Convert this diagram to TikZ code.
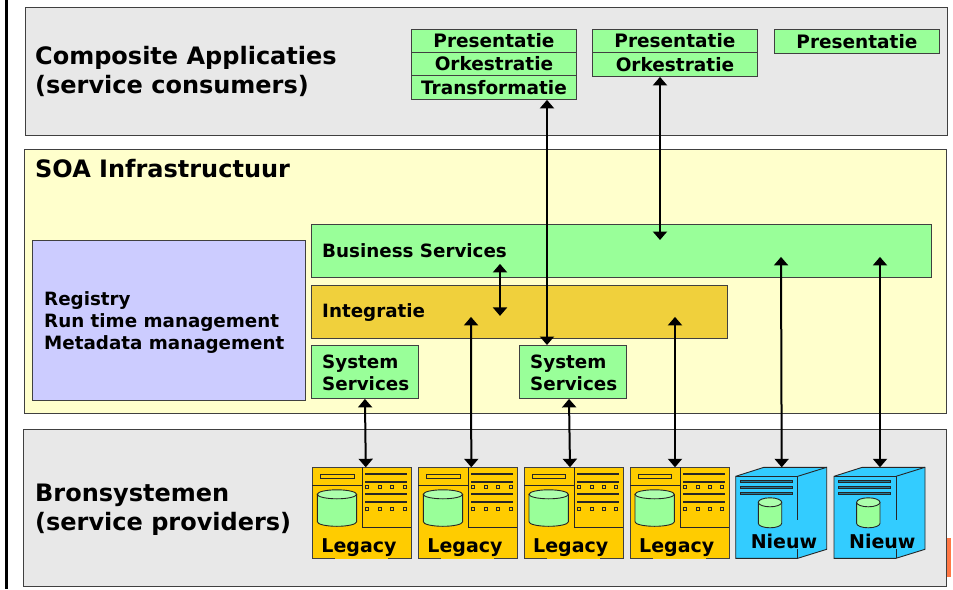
\documentclass[tikz,border=0pt]{standalone}
\usepackage{fontspec}
\setmainfont{DejaVu Sans}
\usetikzlibrary{arrows.meta}
\definecolor{panelgrey}{HTML}{E8E8E8}
\definecolor{soayellow}{HTML}{FFFFCC}
\definecolor{lilac}{HTML}{CCCCFF}
\definecolor{sgreen}{HTML}{99FF99}
\definecolor{integ}{HTML}{F0D03C}
\definecolor{legacyy}{HTML}{FFCC00}
\definecolor{nieuwb}{HTML}{33CCFF}
\definecolor{orangeb}{HTML}{FF7744}
\tikzset{
  panel/.style={draw=black!75,line width=0.9pt,anchor=north west,inner sep=0pt},
  box/.style={panel,fill=sgreen,font=\bfseries\fontsize{18.5}{20}\selectfont},
  title/.style={anchor=west,align=left,inner sep=0pt,font=\bfseries\fontsize{24}{29}\selectfont},
  label/.style={anchor=west,align=left,inner sep=0pt,font=\bfseries\fontsize{18.3}{22}\selectfont},
  arr/.style={{Triangle[length=8.5pt,width=14pt]}-{Triangle[length=8.5pt,width=14pt]},line width=2pt,black},
  ico/.style={draw=black!85,line width=0.9pt},
  bar/.style={draw=black!85,line width=2pt},
  icotext/.style={inner sep=0pt,anchor=base,font=\bfseries\fontsize{19}{22}\selectfont}
}
\newcommand{\mylow}[2]{\raisebox{-#1pt}{#2}}
\newcommand{\mycyl}[4]{% x1,x2,ytop,ybot
  \filldraw[ico,fill=sgreen] (#1,#3) -- (#1,#4) arc[start angle=180,end angle=0,x radius={(#2-#1)/2},y radius=4.5] -- (#2,#3) -- cycle;
  \filldraw[ico,fill=sgreen!80!white] ({(#1+#2)/2},#3) ellipse[x radius={(#2-#1)/2},y radius=4.5];
}
\newcommand{\mylegacy}[3]{% name, x, y
  \node[panel,fill=legacyy,minimum width=98.5pt,minimum height=91pt] (#1) at (#2,#3) {};
  \begin{scope}[shift={(#2,#3)}]
    \draw[ico] (50,0) -- (50,60) -- (98.5,60);
    \draw[ico] (0,18.5) -- (50,18.5);
    \draw[ico] (8,7.3) rectangle (41.7,10.7);
    \mycyl{5}{44.3}{27}{54.5}
    \foreach \yy in {6.3,15,26.7,35} \draw[bar] (53,\yy) -- (94.7,\yy);
    \foreach \yy in {19.3,42} \foreach \xx in {55,67.7,79.7,92.3}
      \draw[ico,line width=0.8pt] (\xx-1.5,\yy-1.5) rectangle (\xx+1.5,\yy+1.5);
    \fill[legacyy] (23,90) rectangle (76,92);
    \node[icotext] at (46.7,85) {Legacy};
  \end{scope}
}
\newcommand{\mynieuw}[3]{% name, x of front left, y top
  \begin{scope}[shift={(#2,#3)}]
    \filldraw[ico,fill=nieuwb] (0,9) -- (28.3,0) -- (91,0) -- (91,82) -- (62,91) -- (0,91) -- cycle;
    \draw[ico] (0,9) -- (62,9) -- (62,52.7);
    \draw[ico] (62,9) -- (91,0);
    \draw[ico] (62,82) -- (62,91);
    \foreach \yy in {13.7,19.7,25.7} \draw[ico,fill=nieuwb!60!black,line width=0.6pt] (4.6,\yy-1.1) rectangle (56.6,\yy+1.1);
    \mycyl{22.6}{46}{35}{56}
    \node[icotext] at (48.3,81.4) {Nieuw};
    \coordinate (#1) at (46,0);
  \end{scope}
}
\begin{document}
\begin{tikzpicture}[x=1pt,y=-1pt]
\useasboundingbox (0,0) rectangle (953,589);
\fill[white] (0,0) rectangle (953,589);
\fill[black] (5,0) rectangle (8,589);
\fill[orangeb] (946,537.5) rectangle (951,577);
% panels
\node[panel,fill=panelgrey,minimum width=922pt,minimum height=128pt] (top) at (25,6.5) {};
\node[panel,fill=soayellow,minimum width=922pt,minimum height=264pt] (mid) at (24,149) {};
\node[panel,fill=panelgrey,minimum width=923pt,minimum height=157pt] (bot) at (23,429) {};
\node[title] (ttop) at (35,71.5) {Composite Applicaties\\(service consumers)};
\node[title] (tmid) at (35,168.5) {SOA Infrastructuur};
\node[title] (tbot) at (35,510) {Bronsystemen\\(service providers)};
% consumer boxes
\node[box,minimum width=165pt,minimum height=23pt] (p1) at (411,29) {\mylow{1.5}{Presentatie}};
\node[box,minimum width=165pt,minimum height=23pt] (o1) at (411,52) {\mylow{1}{Orkestratie}};
\node[box,minimum width=165pt,minimum height=24pt] (t1) at (411,75) {Transformatie};
\node[box,minimum width=165pt,minimum height=23pt] (p2) at (592,29) {\mylow{1.5}{Presentatie}};
\node[box,minimum width=165pt,minimum height=24pt] (o2) at (592,52) {Orkestratie};
\node[box,minimum width=165pt,minimum height=24pt] (p3) at (774,29) {\mylow{1}{Presentatie}};
% infrastructure
\node[panel,fill=lilac,minimum width=273pt,minimum height=160pt] (reg) at (32,240) {};
\node[label] (regt) at (44,323) {Registry\\Run time management\\Metadata management};
\node[panel,fill=sgreen,minimum width=620pt,minimum height=53pt] (bs) at (311,224) {};
\node[label] (bst) at (322,251) {Business Services};
\node[panel,fill=integ,minimum width=416pt,minimum height=53pt] (int) at (311,285) {};
\node[label] (intt) at (322,313) {Integratie};
\node[panel,fill=sgreen,minimum width=107pt,minimum height=53pt] (ss1) at (311,345) {};
\node[label] (ss1t) at (322,373) {System\\Services};
\node[panel,fill=sgreen,minimum width=107pt,minimum height=53pt] (ss2) at (519,345) {};
\node[label] (ss2t) at (530,373) {System\\Services};
% sources
\mylegacy{l1}{312.3}{467.3}
\mylegacy{l2}{418.3}{467.3}
\mylegacy{l3}{524}{467.3}
\mylegacy{l4}{630}{467.3}
\mynieuw{n1}{735.7}{467.3}
\mynieuw{n2}{834}{467.3}
% connectors
\draw[arr] ([xshift=136pt]t1.south west) -- ([xshift=28pt]ss2.north west);
\draw[arr] ([xshift=68pt]o2.south west) -- ([xshift=349pt,yshift=-16pt]bs.north west);
\draw[arr] ([xshift=189pt,yshift=14pt]bs.south west) -- ([xshift=189pt,yshift=23pt]int.south west);
\draw[arr] (ss1.south) -- ([xshift=53.5pt]l1.north west);
\draw[arr] ([xshift=160pt,yshift=22pt]int.south west) -- ([xshift=53pt]l2.north west);
\draw[arr] ([xshift=50pt]ss2.south west) -- ([xshift=46pt]l3.north west);
\draw[arr] ([xshift=364pt,yshift=22pt]int.south west) -- ([xshift=45pt]l4.north west);
\draw[arr] ([xshift=470pt,yshift=21pt]bs.south west) -- (n1);
\draw[arr] ([xshift=569pt,yshift=21pt]bs.south west) -- (n2);
\end{tikzpicture}
\end{document}
